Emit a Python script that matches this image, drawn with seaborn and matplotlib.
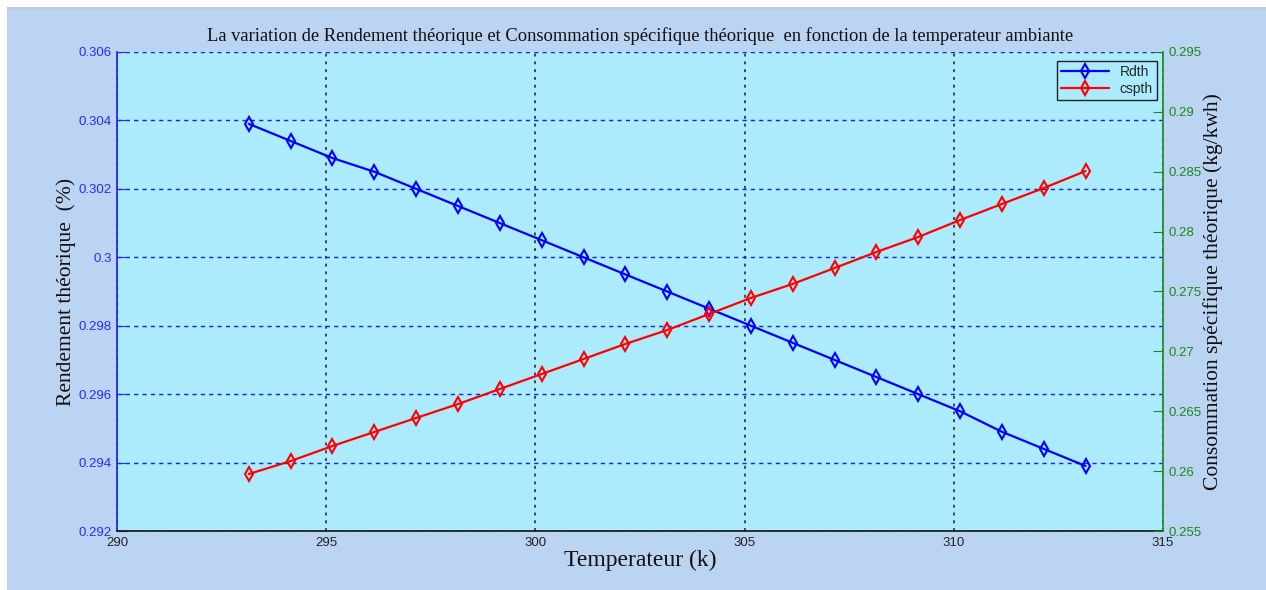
import numpy as np
import pandas as pd
import matplotlib
matplotlib.use("Agg")
import matplotlib.pyplot as plt
from matplotlib.patches import Rectangle
import seaborn as sns

# Ambient temperature (K)
temperature = [293.15, 294.15, 295.15, 296.15, 297.15, 298.15, 299.15, 300.15,
               301.15, 302.15, 303.15, 304.15, 305.15, 306.15, 307.15, 308.15,
               309.15, 310.15, 311.15, 312.15, 313.15]
# Theoretical efficiency
rdth = [0.3039, 0.3034, 0.3029, 0.3025, 0.3020, 0.3015, 0.3010, 0.3005,
        0.3000, 0.2995, 0.2990, 0.2985, 0.2980, 0.2975, 0.2970, 0.2965,
        0.2960, 0.2955, 0.2949, 0.2944, 0.2939]
# Theoretical specific consumption (kg/kWh)
cspth = [0.25976, 0.26084, 0.26210, 0.26327, 0.26444, 0.26560, 0.26686,
         0.26811, 0.26936, 0.27062, 0.27178, 0.27312, 0.27446, 0.27563,
         0.27696, 0.27830, 0.27955, 0.28097, 0.28231, 0.28364, 0.28506]

x_ticks = [290, 295, 300, 305, 310, 315]
left_ticks = [0.292, 0.294, 0.296, 0.298, 0.300, 0.302, 0.304, 0.306]
left_labels = ["0.292", "0.294", "0.296", "0.298", "0.3", "0.302", "0.304", "0.306"]
right_ticks = [0.255, 0.26, 0.265, 0.27, 0.275, 0.28, 0.285, 0.29, 0.295]
right_labels = ["0.255", "0.26", "0.265", "0.27", "0.275", "0.28", "0.285", "0.29", "0.295"]

df = pd.DataFrame({"T": temperature, "Rdth": rdth, "cspth": cspth})

sns.set_style("white")
plt.rcParams["font.family"] = ["Liberation Sans", "DejaVu Sans"]

W, H = 1266, 590
fig = plt.figure(figsize=(W / 100, H / 100), dpi=100, facecolor="white")
# window background panel
fig.patches.append(Rectangle((7 / W, 0), 1 - 7 / W, (H - 9) / H, transform=fig.transFigure,
                             facecolor="#bad4f2", edgecolor="none", zorder=-10))
fig.patches.append(Rectangle((7 / W, (H - 9) / H), 1 - 7 / W, 2 / H, transform=fig.transFigure,
                             facecolor="#c8c8c8", edgecolor="none", zorder=-10))

left, right, bottom, top = 117, 1163, 531, 52
ax = fig.add_axes([left / W, (H - bottom) / H, (right - left) / W, (bottom - top) / H])
ax.set_facecolor("#abebfc")
ax2 = ax.twinx()

serif = ["Liberation Serif", "DejaVu Serif"]

sns.lineplot(data=df, x="T", y="Rdth", ax=ax, color="#0000ff", lw=1.6,
             marker="d", markersize=7, markerfacecolor="none",
             markeredgecolor="#0000ff", markeredgewidth=1.5, label="Rdth")
sns.lineplot(data=df, x="T", y="cspth", ax=ax2, color="#ff0000", lw=1.6,
             marker="d", markersize=7, markerfacecolor="none",
             markeredgecolor="#ff0000", markeredgewidth=1.5, label="cspth")
for a in (ax, ax2):
    if a.get_legend() is not None:
        a.get_legend().remove()

ax.set_xlim(290, 315)
ax.set_ylim(0.292, 0.306)
ax2.set_ylim(0.255, 0.295)
ax.set_xticks(x_ticks)
ax.set_xticklabels([str(t) for t in x_ticks])
ax.set_yticks(left_ticks)
ax.set_yticklabels(left_labels)
ax2.set_yticks(right_ticks)
ax2.set_yticklabels(right_labels)

# grid: blue dashed horizontals, grey dotted verticals
ax.yaxis.grid(True, color="#1a1aff", linestyle=(0, (3, 3)), lw=1.0)
ax.xaxis.grid(True, color="#3c4650", linestyle=(0, (1.5, 2.5)), lw=1.4)
ax.set_axisbelow(True)

for s in ("top", "right"):
    ax.spines[s].set_visible(False)
ax.spines["left"].set_color("#1a1aff")
ax.spines["bottom"].set_color("#111111")
for s in ("top", "left", "bottom"):
    ax2.spines[s].set_visible(False)
ax2.spines["right"].set_color("#1a8a1a")
for sp in list(ax.spines.values()) + list(ax2.spines.values()):
    sp.set_linewidth(1.2)

ax.tick_params(axis="y", direction="in", length=7, colors="#2a2aff", labelsize=9.5, pad=4)
ax.tick_params(axis="x", direction="in", length=6, color="#333333", labelcolor="#222222",
               labelsize=9.5, pad=4)
ax2.tick_params(axis="y", direction="in", length=7, colors="#1a8a1a", labelsize=9.5, pad=4)

ax.set_xlabel("Temperateur (k)", fontsize=17, family=serif, color="#111111", labelpad=1)
ax.set_ylabel("Rendement théorique  (%)", fontsize=15.5, family=serif, color="#111111", labelpad=2)
ax2.set_ylabel("Consommation spécifique théorique (kg/kwh)", fontsize=15.5, family=serif,
               color="#111111", labelpad=1)
ax.set_title("La variation de Rendement théorique et Consommation spécifique théorique  "
             "en fonction de la temperateur ambiante", fontsize=13.3, family=serif,
             color="#111111", pad=8)

h1, l1 = ax.get_legend_handles_labels()
h2, l2 = ax2.get_legend_handles_labels()
leg = ax2.legend(h1 + h2, l1 + l2, loc="upper right", bbox_to_anchor=(0.9943, 0.9812),
                 borderaxespad=0, fontsize=10, frameon=True, fancybox=False,
                 handlelength=3.4, borderpad=0.3, labelspacing=0.2, handletextpad=0.8)
leg.get_frame().set_facecolor("#abebfc")
leg.get_frame().set_edgecolor("#222222")
leg.get_frame().set_linewidth(1.0)
leg.get_frame().set_alpha(1)

fig.savefig("out.png", dpi=100, facecolor=fig.get_facecolor())
